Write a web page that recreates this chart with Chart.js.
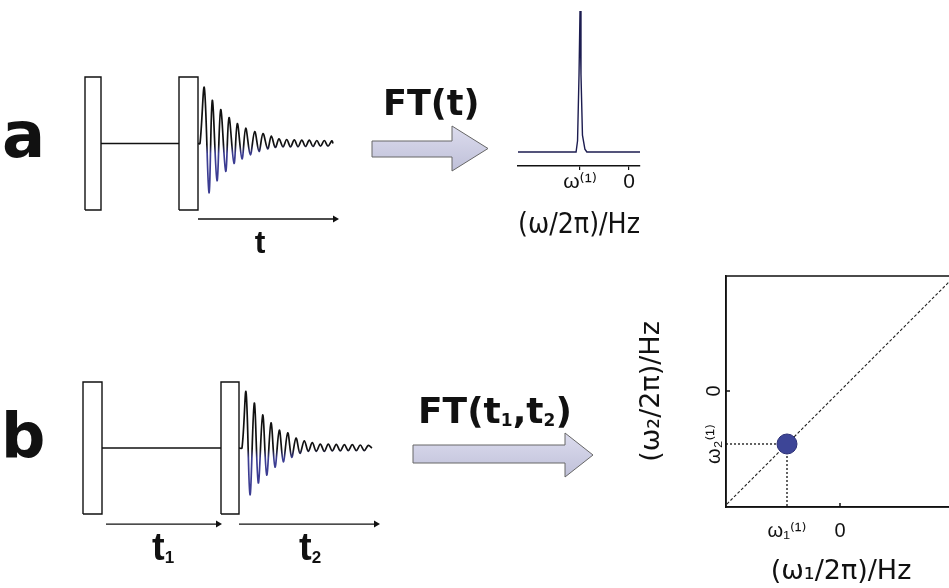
<!DOCTYPE html>
<html>
<head>
<meta charset="utf-8">
<script src="https://cdn.jsdelivr.net/npm/chart.js@4.4.1/dist/chart.umd.min.js"></script>
<style>
  html, body { margin: 0; padding: 0; background: #fff; }
  body { width: 949px; height: 588px; overflow: hidden; position: relative; }
  .box { position: absolute; }
  #overlay { position: absolute; left: 0; top: 0; pointer-events: none; }
</style>
</head>
<body>
<div class="box" style="left:70px;top:60px;width:290px;height:200px"><canvas id="seqA"></canvas></div>
<div class="box" style="left:500px;top:0px;width:170px;height:250px"><canvas id="spec1d"></canvas></div>
<div class="box" style="left:70px;top:360px;width:320px;height:200px"><canvas id="seqB"></canvas></div>
<div class="box" style="left:600px;top:240px;width:380px;height:348px"><canvas id="spec2d"></canvas></div>

<svg id="overlay" width="949" height="588">
  <defs>
    <linearGradient id="arrowFill" x1="0" y1="0" x2="0" y2="1">
      <stop offset="0" stop-color="#dcdcee"/>
      <stop offset="1" stop-color="#bfc0d8"/>
    </linearGradient>
  </defs>
  <polygon points="372,141 452,141 452,126 488,148.5 452,171 452,157 372,157" fill="url(#arrowFill)" stroke="#666" stroke-width="1"/>
  <polygon points="413,445 565,445 565,433 593,455 565,477 565,463 413,463" fill="url(#arrowFill)" stroke="#666" stroke-width="1"/>
  <g font-family="DejaVu Sans" font-weight="bold" fill="#111">
    <text x="2" y="157" font-size="64">a</text>
    <text x="1" y="457" font-size="62">b</text>
    <text x="383" y="115" font-size="35">FT(t)</text>
    <text x="418" y="423" font-size="36">FT(t<tspan font-size="17" dy="3">1</tspan><tspan dy="-3">,t</tspan><tspan font-size="17" dy="3">2</tspan><tspan dy="-3">)</tspan></text>
  </g>
  <g font-family="Liberation Sans" font-weight="bold" fill="#111">
    <text x="260" y="253" font-size="32" text-anchor="middle">t</text>
    <text x="152" y="560" font-size="38">t<tspan font-size="17" dy="3">1</tspan></text>
    <text x="299" y="560" font-size="38">t<tspan font-size="17" dy="3">2</tspan></text>
  </g>
</svg>

<script>
// ---- panel a: pulse sequence (time in arbitrary units, amplitude relative to pulse height)
var pulseStartA = [0, 94];
var pulseEndA = [16, 113];
var fidTimeA = [113, 115, 119.3, 124, 127.3, 132, 135.7, 140.7, 144, 149, 152.3, 157, 160.7, 165.3, 169.7, 174, 178, 182.7,
  186.3, 190.3, 194, 198, 201.7, 205.5, 209.3, 213, 216.8, 220.5, 224.3, 228, 231.8, 235.5, 239.3, 243, 246.8, 248];
var fidAmpA = [0, 0, 0.84, -0.74, 0.65, -0.56, 0.51, -0.42, 0.39, -0.30, 0.30, -0.23, 0.23, -0.17, 0.18, -0.12, 0.15, -0.08,
  0.11, -0.06, 0.07, -0.05, 0.06, -0.05, 0.055, -0.05, 0.05, -0.045, 0.05, -0.045, 0.045, -0.04, 0.045, -0.04, 0.04, 0];
var timeArrowsA = [[113, 250]];

// ---- panel b: two-pulse sequence
var pulseStartB = [0, 138];
var pulseEndB = [19, 156];
var fidTimeB = [156, 159, 163, 167, 171.3, 175.3, 179.7, 183.7, 188, 192, 196.3, 200.3, 204.7, 208.7, 213, 217, 221.3,
  225.3, 229.3, 233.3, 237.3, 241.3, 245.3, 249.3, 253.3, 257.3, 261.3, 265.3, 269.3, 273.3, 277.3, 281.3, 285.3, 289];
var fidAmpB = [0, 0, 0.85, -0.71, 0.68, -0.53, 0.50, -0.41, 0.38, -0.29, 0.27, -0.21, 0.23, -0.14, 0.15, -0.08, 0.11,
  -0.05, 0.08, -0.05, 0.06, -0.05, 0.06, -0.045, 0.055, -0.045, 0.05, -0.04, 0.05, -0.04, 0.045, -0.04, 0.04, 0];
var timeArrowsB = [[23, 135], [156, 293]];

// ---- 1D spectrum (frequency in units of |omega(1)|)
var specFreq = [-2.265, -1.08, -1.05, -1.02, -1.0, -0.98, -0.95, -0.90, -0.86, 0.224];
var specInt = [0, 0, 0.08, 0.55, 1, 0.55, 0.12, 0.02, 0, 0];
var specTicks = [-1, 0];
var specTickLabels = ['ω⁽¹⁾', '0'];

// ---- 2D spectrum
var peakF1 = [-1];
var peakF2 = [-1];
var diagF = [-2.4, 2.4];
var ticks2d = [-1, 0];
var ticksF1Labels = ['ω₁⁽¹⁾', '0'];
var ticksF2Labels = ['ω₂⁽¹⁾', '0'];
var innerTicks2d = [0];

Chart.defaults.animation = false;
Chart.defaults.font.family = "'Liberation Sans', 'DejaVu Sans', sans-serif";
Chart.defaults.color = '#111';
Chart.defaults.plugins.legend.display = false;
Chart.defaults.plugins.tooltip.enabled = false;
Chart.defaults.layout.autoPadding = false;

var INK = '#111';
var BLUE = '#3b3c92';

function pts(xs, ys) {
  return xs.map(function(x, i) { return {x: x, y: ys[i]}; });
}

function lineDs(data, color, width) {
  return {data: data, showLine: true, pointRadius: 0, borderColor: color, borderWidth: width, tension: 0};
}

// black above the baseline, fading into blue in the negative lobes
function fidColor(context) {
  var chart = context.chart;
  var area = chart.chartArea;
  if (!area) return INK;
  var y0 = chart.scales.y.getPixelForValue(0);
  var h = area.bottom - area.top;
  var g = chart.ctx.createLinearGradient(0, area.top, 0, area.bottom);
  g.addColorStop(0, INK);
  g.addColorStop(Math.min(1, (y0 + 1 - area.top) / h), INK);
  g.addColorStop(Math.min(1, (y0 + 10 - area.top) / h), BLUE);
  g.addColorStop(1, BLUE);
  return g;
}

function seqChart(id, starts, ends, fidT, fidA, arrows, xmin, xmax, ymin, ymax, arrowY) {
  var ds = [];
  for (var i = 0; i < starts.length; i++) {
    ds.push(lineDs([
      {x: starts[i], y: -1}, {x: starts[i], y: 1}, {x: ends[i], y: 1},
      {x: ends[i], y: -1}, {x: starts[i], y: -1}
    ], INK, 1.4));
  }
  ds.push(lineDs([{x: ends[0], y: 0}, {x: starts[1], y: 0}], INK, 1.4));
  ds.push({data: pts(fidT, fidA), showLine: true, pointRadius: 0, borderWidth: 1.7, tension: 0.35, borderColor: fidColor});
  arrows.forEach(function(a) {
    var d = lineDs([{x: a[0], y: arrowY}, {x: a[1], y: arrowY}], INK, 1.3);
    d.pointRadius = [0, 4];
    d.pointStyle = 'triangle';
    d.pointRotation = 90;
    d.pointBackgroundColor = INK;
    d.pointBorderColor = INK;
    d.pointBorderWidth = 0;
    ds.push(d);
  });
  return new Chart(document.getElementById(id), {
    type: 'scatter',
    data: {datasets: ds},
    options: {
      responsive: true,
      maintainAspectRatio: false,
      layout: {padding: 0},
      scales: {
        x: {type: 'linear', display: false, min: xmin, max: xmax},
        y: {type: 'linear', display: false, min: ymin, max: ymax}
      }
    }
  });
}

seqChart('seqA', pulseStartA, pulseEndA, fidTimeA, fidAmpA, timeArrowsA, -15, 275, -1.752, 1.256, -1.135);
seqChart('seqB', pulseStartB, pulseEndB, fidTimeB, fidAmpB, timeArrowsB, -13, 307, -1.697, 1.333, -1.152);

// ---- 1D spectrum
new Chart(document.getElementById('spec1d'), {
  type: 'scatter',
  data: {
    datasets: [{data: pts(specFreq, specInt), showLine: true, pointRadius: 0, borderColor: '#1c1c50', borderWidth: 1.4, tension: 0}]
  },
  options: {
    responsive: true,
    maintainAspectRatio: false,
    layout: {padding: {left: 18, right: 30, top: 6, bottom: 7.2}},
    scales: {
      x: {
        type: 'linear', min: specFreq[0], max: specFreq[specFreq.length - 1],
        grid: {display: true, drawOnChartArea: false, tickLength: 4, color: INK, lineWidth: 1.2},
        border: {display: true, color: INK, width: 1.5},
        afterBuildTicks: function(s) { s.ticks = specTicks.map(function(v) { return {value: v}; }); },
        ticks: {
          autoSkip: false, maxRotation: 0, padding: 0, color: INK,
          font: {size: 21},
          callback: function(v, i) { return specTickLabels[i]; }
        },
        title: {display: true, text: '(ω/2π)/Hz', color: INK, font: {size: 28, family: "'DejaVu Sans'"}, padding: {top: 14, bottom: 0}}
      },
      y: {type: 'linear', display: false, min: -0.0993, max: 1.0355}
    }
  }
});

// ---- 2D spectrum
var frame2d = {
  id: 'frame2d',
  afterDraw: function(chart) {
    var a = chart.chartArea, c = chart.ctx;
    c.save();
    c.strokeStyle = INK;
    c.lineWidth = 1.5;
    c.strokeRect(a.left, a.top, a.right - a.left, a.bottom - a.top);
    c.beginPath();
    innerTicks2d.forEach(function(v) {
      var x = chart.scales.x.getPixelForValue(v);
      var y = chart.scales.y.getPixelForValue(v);
      c.moveTo(x, a.bottom); c.lineTo(x, a.bottom - 4);
      c.moveTo(a.left, y); c.lineTo(a.left + 4, y);
    });
    c.stroke();
    c.restore();
  }
};

var f1Min = -2.151, f1Max = 2.189, f2Min = -2.189, f2Max = 2.170;

new Chart(document.getElementById('spec2d'), {
  type: 'scatter',
  data: {
    datasets: [
      {data: pts(peakF1, peakF2), pointRadius: 10, backgroundColor: '#3d4597', borderColor: '#2e3278', borderWidth: 1},
      {data: [{x: f1Min, y: peakF2[0]}, {x: peakF1[0], y: peakF2[0]}], showLine: true, pointRadius: 0,
        borderColor: '#222', borderWidth: 1.4, borderDash: [2, 2]},
      {data: [{x: peakF1[0], y: peakF2[0]}, {x: peakF1[0], y: f2Min}], showLine: true, pointRadius: 0,
        borderColor: '#222', borderWidth: 1.4, borderDash: [2, 2]},
      {data: pts(diagF, diagF), showLine: true, pointRadius: 0, borderColor: '#222', borderWidth: 1.1, borderDash: [3, 2]}
    ]
  },
  options: {
    responsive: true,
    maintainAspectRatio: false,
    layout: {padding: {left: 36, right: 24, top: 36, bottom: 0}},
    scales: {
      x: {
        type: 'linear', min: f1Min, max: f1Max,
        grid: {display: false, drawTicks: false},
        border: {display: true, color: INK, width: 1.5},
        afterBuildTicks: function(s) { s.ticks = ticks2d.map(function(v) { return {value: v}; }); },
        ticks: {
          autoSkip: false, maxRotation: 0, padding: 12, color: INK, font: {size: 20},
          callback: function(v, i) { return ticksF1Labels[i]; }
        },
        title: {display: true, text: '(ω₁/2π)/Hz', color: INK, font: {size: 27, family: "'DejaVu Sans'"}, padding: {top: 0.6, bottom: 0}}
      },
      y: {
        type: 'linear', min: f2Min, max: f2Max,
        grid: {display: false, drawTicks: false},
        border: {display: true, color: INK, width: 1.5},
        afterBuildTicks: function(s) { s.ticks = ticks2d.map(function(v) { return {value: v}; }); },
        ticks: {
          autoSkip: false, minRotation: 90, maxRotation: 90, crossAlign: 'center', padding: -8, color: INK, font: {size: 20},
          callback: function(v, i) { return ticksF2Labels[i]; }
        },
        title: {display: true, text: '(ω₂/2π)/Hz', color: INK, font: {size: 27, family: "'DejaVu Sans'"}, padding: {top: 0, bottom: 49.6}}
      }
    }
  },
  plugins: [frame2d]
});
</script>
</body>
</html>
